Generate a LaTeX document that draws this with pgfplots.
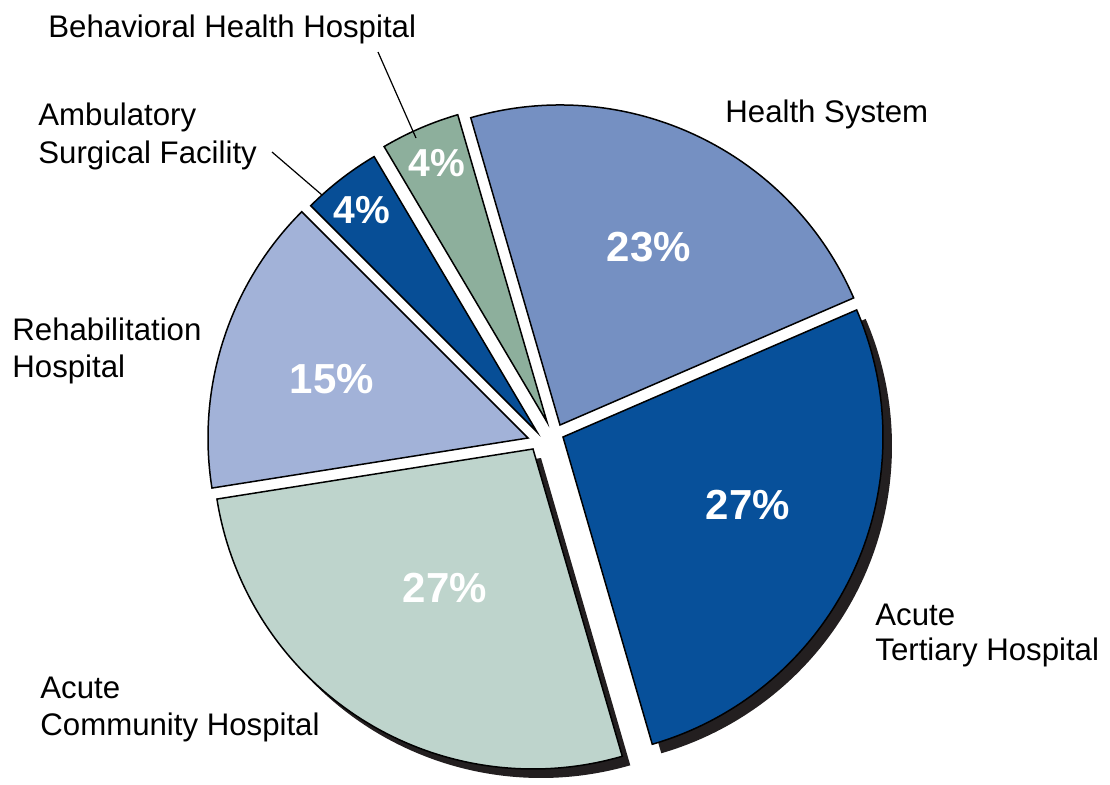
\documentclass[border=0pt]{standalone}
\usepackage{fontspec}
\setmainfont{Liberation Sans}
\usepackage{pgfplots}
\pgfplotsset{compat=1.18}
\definecolor{cHealth}{HTML}{7590C2}
\definecolor{cTert}{HTML}{07509A}
\definecolor{cComm}{HTML}{BED4CC}
\definecolor{cRehab}{HTML}{A2B2D8}
\definecolor{cAmb}{HTML}{074E96}
\definecolor{cBeh}{HTML}{8DAF9C}
\definecolor{cShadow}{HTML}{231F20}
% shares (percent), counter-clockwise from Health System
\def\vHealth{23}\def\vBeh{4}\def\vAmb{4}\def\vRehab{15}\def\vComm{27}\def\vTert{27}
\pgfmathsetmacro\aH{23.4}
\pgfmathsetmacro\aB{\aH+3.6*\vHealth}
\pgfmathsetmacro\aA{\aB+3.6*\vBeh}
\pgfmathsetmacro\aR{\aA+3.6*\vAmb}
\pgfmathsetmacro\aC{\aR+3.6*\vRehab}
\pgfmathsetmacro\aT{\aC+3.6*\vComm}
\pgfmathsetmacro\aE{\aT+3.6*\vTert}
% slice: apex x, apex y, start angle, end angle, style
\newcommand{\slice}[5]{%
  \filldraw[#5] (axis cs:#1,#2) -- ++(#3:160pt) arc[start angle=#3, end angle=#4, radius=160pt] -- cycle;}
\newcommand{\lab}[3]{\node[anchor=base west, inner sep=0pt, font=\fontsize{15.6}{18}\selectfont] at (axis cs:#1,#2) {#3};}
\begin{document}
\begin{tikzpicture}
\begin{axis}[x=0.5pt, y=0.5pt, xmin=0, xmax=1110, ymin=0, ymax=778,
  hide axis, clip=false]
\path (axis cs:0,0) rectangle (axis cs:1110,778);
% shadows
\slice{572}{332}{\aT}{\aE}{fill=cShadow, draw=none}
\slice{541}{320}{\aC}{\aT}{fill=cShadow, draw=none}
% slices
\slice{560}{353}{\aH}{\aB}{fill=cHealth, draw=black, line width=0.75pt}
\slice{547}{356}{\aB}{\aA}{fill=cBeh, draw=black, line width=0.75pt}
\slice{537}{346}{\aA}{\aR}{fill=cAmb, draw=black, line width=0.75pt}
\slice{528}{340}{\aR}{\aC}{fill=cRehab, draw=black, line width=0.75pt}
\slice{533}{329}{\aC}{\aT}{fill=cComm, draw=black, line width=0.75pt}
\slice{563}{341}{\aT}{\aE}{fill=cTert, draw=black, line width=0.75pt}
% percentage labels
\begin{scope}[every node/.style={anchor=center, inner sep=0pt, text=white}]
\node[font=\bfseries\fontsize{21}{21}\selectfont] at (axis cs:649,531) {\vHealth\%};
\node[font=\bfseries\fontsize{19.5}{19.5}\selectfont] at (axis cs:437,615) {\vBeh\%};
\node[font=\bfseries\fontsize{19.5}{19.5}\selectfont] at (axis cs:362,568) {\vAmb\%};
\node[font=\bfseries\fontsize{21}{21}\selectfont] at (axis cs:332,399) {\vRehab\%};
\node[font=\bfseries\fontsize{21}{21}\selectfont] at (axis cs:445,190) {\vComm\%};
\node[font=\bfseries\fontsize{21}{21}\selectfont] at (axis cs:748,273) {\vTert\%};
\end{scope}
% outer labels
\lab{48}{741}{Behavioral Health Hospital}
\lab{38}{653}{Ambulatory}
\lab{38}{615}{Surgical Facility}
\lab{725}{656}{Health System}
\lab{12}{438}{Rehabilitation}
\lab{12}{401}{Hospital}
\lab{40}{80}{Acute}
\lab{40}{43}{Community Hospital}
\lab{875}{153}{Acute}
\lab{875}{118}{Tertiary Hospital}
% leader lines
\draw[line width=0.6pt] (axis cs:378,726) -- (axis cs:416,640);
\draw[line width=0.6pt] (axis cs:272,626) -- (axis cs:322,583);
\end{axis}
\end{tikzpicture}
\end{document}
